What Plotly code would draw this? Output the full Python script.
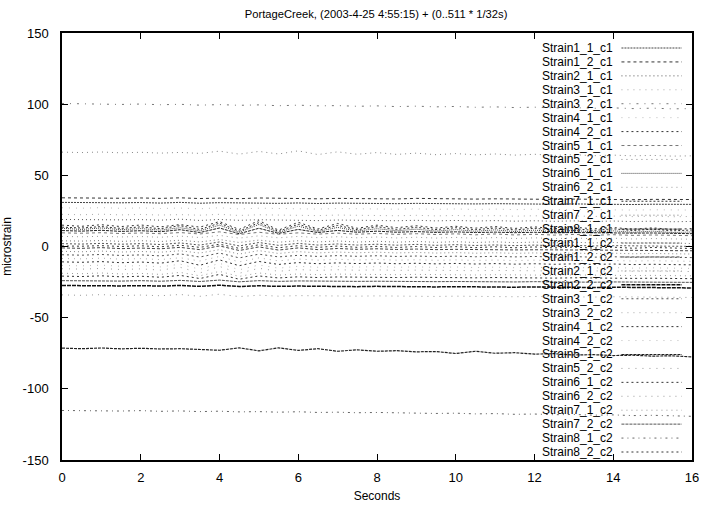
import plotly.graph_objects as go

TITLE = "PortageCreek, (2003-4-25 4:55:15) + (0..511 * 1/32s)"
X_LABEL = "Seconds"
Y_LABEL = "microstrain"
X_TICKS = [0, 2, 4, 6, 8, 10, 12, 14, 16]
Y_TICKS = [-150, -100, -50, 0, 50, 100, 150]

TIME = [0, 0.5, 1, 1.5, 2, 2.5, 3, 3.5, 4, 4.5, 5, 5.5, 6, 6.5, 7, 7.5, 8,
        8.5, 9, 9.5, 10, 10.5, 11, 11.5, 12, 12.5, 13, 13.5, 14, 14.5, 15, 15.5, 16]

NAMES = ["Strain1_1_c1", "Strain1_2_c1", "Strain2_1_c1", "Strain3_1_c1", "Strain3_2_c1",
         "Strain4_1_c1", "Strain4_2_c1", "Strain5_1_c1", "Strain5_2_c1", "Strain6_1_c1",
         "Strain6_2_c1", "Strain7_1_c1", "Strain7_2_c1", "Strain8_1_c1",
         "Strain1_1_c2", "Strain1_2_c2", "Strain2_1_c2", "Strain2_2_c2", "Strain3_1_c2",
         "Strain3_2_c2", "Strain4_1_c2", "Strain4_2_c2", "Strain5_1_c2", "Strain5_2_c2",
         "Strain6_1_c2", "Strain6_2_c2", "Strain7_1_c2", "Strain7_2_c2", "Strain8_1_c2",
         "Strain8_2_c2"]

strain1_1_c1 = [31.0, 30.8, 31.1, 30.7, 30.9, 30.5, 31.0, 30.4, 30.8, 30.6,
                30.7, 30.3, 30.6, 30.2, 30.5, 30.3, 30.4, 30.1, 30.3, 30.0,
                30.2, 29.9, 30.1, 29.8, 30.0, 29.7, 29.9, 29.6, 29.8, 29.5,
                29.7, 29.4, 29.6]
strain1_2_c1 = [34.2, 34.0, 34.3, 33.9, 34.1, 33.8, 34.2, 33.7, 34.0, 33.6,
                34.1, 33.8, 33.9, 33.5, 33.8, 33.6, 33.7, 33.4, 33.8, 33.5,
                33.6, 33.3, 33.5, 33.2, 33.4, 33.1, 33.3, 33.0, 33.2, 32.9,
                33.1, 32.8, 33.0]
strain2_1_c1 = [19.0, 18.8, 19.1, 18.7, 18.9, 18.5, 19.2, 18.3, 19.0, 18.4,
                18.8, 18.5, 18.7, 18.2, 18.6, 18.3, 18.5, 18.1, 18.4, 18.0,
                18.3, 17.9, 18.2, 17.8, 18.1, 17.7, 18.0, 17.6, 17.9, 17.5,
                17.8, 17.4, 17.6]
strain3_1_c1 = [22.6, 22.3, 22.7, 22.2, 22.5, 22.1, 22.4, 22.0, 22.6, 21.8,
                22.3, 22.0, 22.2, 21.7, 22.1, 21.8, 22.0, 21.6, 21.9, 21.5,
                21.8, 21.4, 21.7, 21.3, 21.6, 21.2, 21.5, 21.1, 21.4, 21.0,
                21.3, 20.9, 21.1]
strain3_2_c1 = [100.5, 100.2, 100.4, 99.8, 100.1, 99.6, 99.9, 99.3, 99.7, 99.2,
                99.5, 98.9, 99.3, 98.8, 99.0, 98.5, 98.8, 98.3, 98.6, 98.1,
                98.4, 97.8, 98.1, 97.6, 97.9, 97.3, 97.6, 97.1, 97.4, 96.9,
                97.2, 96.7, 96.9]
strain4_1_c1 = [27.2, 26.9, 27.3, 26.8, 27.1, 26.7, 27.0, 26.5, 27.2, 26.4,
                26.9, 26.6, 26.8, 26.3, 26.7, 26.4, 26.6, 26.2, 26.5, 26.1,
                26.4, 26.0, 26.3, 25.9, 26.2, 25.8, 26.0, 25.7, 25.9, 25.6,
                25.8, 25.5, 25.6]
strain4_2_c1 = [15.0, 14.2, 15.3, 14.0, 15.1, 13.8, 15.4, 13.6, 17.5, 12.0,
                18.2, 11.5, 17.0, 12.3, 16.2, 12.8, 15.0, 13.2, 14.6, 13.0,
                14.2, 12.9, 14.0, 12.7, 13.8, 12.5, 13.6, 12.4, 13.3, 12.2,
                13.1, 12.0, 12.6]
strain5_1_c1 = [9.6, 9.3, 9.7, 9.1, 9.5, 9.0, 9.8, 8.8, 10.3, 8.4,
                10.0, 8.6, 9.6, 8.7, 9.4, 8.6, 9.2, 8.5, 9.0, 8.4,
                8.9, 8.2, 8.8, 8.1, 8.6, 8.0, 8.5, 7.9, 8.3, 7.8,
                8.1, 7.7, 7.6]
strain5_2_c1 = [66.3, 66.0, 66.4, 65.8, 66.2, 65.6, 66.1, 65.4, 67.0, 64.9,
                66.8, 65.0, 67.2, 64.6, 66.5, 64.8, 66.0, 64.7, 65.6, 64.5,
                65.3, 64.4, 65.0, 64.2, 64.8, 64.0, 64.5, 63.8, 64.2, 63.7,
                64.0, 63.5, 63.7]
strain6_1_c1 = [12.8, 12.0, 13.0, 11.8, 12.6, 11.5, 13.2, 11.0, 15.0, 10.0,
                15.5, 9.8, 14.3, 10.6, 13.4, 10.9, 12.5, 11.0, 12.2, 10.8,
                11.9, 10.7, 11.7, 10.5, 11.5, 10.3, 11.3, 10.2, 11.0, 10.0,
                10.8, 9.8, 10.2]
strain6_2_c1 = [7.1, 6.8, 7.2, 6.7, 7.0, 6.5, 7.3, 6.3, 7.8, 5.9,
                7.5, 6.1, 7.1, 6.2, 6.9, 6.1, 6.7, 6.0, 6.5, 5.9,
                6.4, 5.7, 6.3, 5.6, 6.1, 5.5, 6.0, 5.4, 5.8, 5.3,
                5.6, 5.2, 5.1]
strain7_1_c1 = [13.6, 13.0, 14.0, 12.7, 13.8, 12.5, 14.6, 12.0, 16.4, 10.8,
                16.8, 10.6, 15.6, 11.4, 14.8, 11.8, 13.9, 12.0, 13.5, 11.9,
                13.2, 11.8, 13.0, 11.6, 12.8, 11.5, 12.6, 11.3, 12.4, 11.2,
                12.2, 11.0, 11.6]
strain7_2_c1 = [4.0, 3.8, 4.2, 3.6, 4.1, 3.5, 4.4, 3.2, 4.9, 2.8,
                4.5, 3.0, 4.1, 3.2, 3.9, 3.1, 3.7, 3.0, 3.6, 2.9,
                3.4, 2.8, 3.3, 2.7, 3.1, 2.6, 3.0, 2.5, 2.8, 2.4,
                2.6, 2.3, 2.1]
strain8_1_c1 = [11.2, 10.8, 11.4, 10.6, 11.1, 10.4, 11.8, 9.8, 13.0, 9.0,
                12.8, 9.2, 12.0, 9.8, 11.3, 10.0, 10.8, 10.0, 10.5, 9.9,
                10.3, 9.8, 10.1, 9.7, 10.0, 9.6, 9.8, 9.5, 9.6, 9.4,
                9.5, 9.3, 9.0]
strain1_1_c2 = [2.0, 1.7, 2.2, 1.6, 2.0, 1.4, 2.5, 1.0, 3.2, 0.4,
                2.8, 0.8, 2.2, 1.0, 1.8, 1.0, 1.6, 0.9, 1.5, 0.8,
                1.3, 0.7, 1.1, 0.6, 1.0, 0.5, 0.8, 0.4, 0.6, 0.3,
                0.4, 0.2, 0.1]
strain1_2_c2 = [-1.0, -1.3, -0.8, -1.5, -1.1, -1.6, -0.6, -2.2, 0.4, -2.8,
                -0.3, -2.5, -1.0, -2.2, -1.4, -2.0, -1.6, -2.1, -1.8, -2.2,
                -2.0, -2.3, -2.1, -2.4, -2.3, -2.5, -2.4, -2.6, -2.6, -2.7,
                -2.8, -2.9, -3.0]
strain2_1_c2 = [-3.4, -3.7, -3.2, -3.9, -3.5, -4.0, -3.0, -4.6, -2.2, -5.3,
                -2.9, -4.9, -3.6, -4.5, -3.9, -4.4, -4.0, -4.5, -4.2, -4.6,
                -4.3, -4.7, -4.4, -4.8, -4.5, -4.9, -4.6, -5.0, -4.7, -5.1,
                -4.9, -5.2, -5.3]
strain2_2_c2 = [-27.4, -27.6, -27.3, -27.7, -27.5, -27.8, -27.4, -28.0, -27.2, -28.1,
                -27.6, -28.0, -27.8, -28.1, -27.9, -28.2, -28.0, -28.3, -28.1, -28.4,
                -28.2, -28.5, -28.3, -28.6, -28.4, -28.7, -28.5, -28.8, -28.6, -28.9,
                -28.8, -29.0, -29.1]
strain3_1_c2 = [-5.8, -6.1, -5.6, -6.3, -5.9, -6.6, -5.2, -7.4, -4.6, -8.0,
                -5.4, -7.3, -6.2, -7.0, -6.4, -6.9, -6.5, -7.0, -6.7, -7.1,
                -6.8, -7.2, -6.9, -7.3, -7.0, -7.4, -7.1, -7.5, -7.2, -7.6,
                -7.4, -7.7, -7.8]
strain3_2_c2 = [-8.4, -8.7, -8.2, -8.9, -8.5, -9.2, -7.9, -10.2, -7.0, -10.8,
                -8.0, -10.1, -8.8, -9.6, -9.0, -9.5, -9.1, -9.6, -9.3, -9.7,
                -9.4, -9.8, -9.5, -9.9, -9.6, -10.0, -9.7, -10.1, -9.8, -10.2,
                -10.0, -10.3, -10.4]
strain4_1_c2 = [-10.8, -11.1, -10.6, -11.4, -10.9, -11.7, -10.0, -13.2, -9.4, -13.5,
                -10.5, -12.6, -11.3, -12.1, -11.5, -12.0, -11.6, -12.1, -11.8, -12.2,
                -11.9, -12.3, -12.0, -12.4, -12.1, -12.5, -12.2, -12.6, -12.3, -12.7,
                -12.5, -12.8, -12.9]
strain4_2_c2 = [-13.3, -13.6, -13.1, -13.9, -13.4, -14.3, -12.4, -16.0, -11.8, -16.4,
                -13.0, -15.2, -13.9, -14.6, -14.0, -14.5, -14.1, -14.6, -14.3, -14.7,
                -14.4, -14.8, -14.5, -14.9, -14.6, -15.0, -14.7, -15.1, -14.8, -15.2,
                -15.0, -15.3, -15.4]
strain5_1_c2 = [-71.4, -71.8, -71.3, -71.9, -71.5, -72.0, -71.8, -72.4, -72.9, -71.2,
                -73.3, -71.2, -73.0, -71.8, -73.6, -72.6, -73.6, -73.2, -74.0, -73.8,
                -75.2, -73.6, -75.0, -74.6, -75.6, -75.3, -76.2, -76.0, -76.6, -76.4,
                -77.0, -76.8, -77.6]
strain5_2_c2 = [-15.6, -15.9, -15.4, -16.2, -15.7, -16.6, -14.6, -18.6, -14.0, -18.8,
                -15.3, -17.4, -16.2, -16.8, -16.3, -16.7, -16.4, -16.8, -16.6, -16.9,
                -16.7, -17.0, -16.8, -17.1, -16.9, -17.2, -17.0, -17.3, -17.1, -17.4,
                -17.3, -17.5, -17.6]
strain6_1_c2 = [-20.8, -21.1, -20.6, -21.3, -20.9, -21.6, -20.3, -22.5, -19.6, -23.0,
                -20.7, -22.1, -21.3, -21.8, -21.4, -21.7, -21.5, -21.8, -21.6, -21.9,
                -21.7, -22.0, -21.8, -22.1, -21.9, -22.2, -22.0, -22.3, -22.1, -22.4,
                -22.3, -22.5, -22.6]
strain6_2_c2 = [-34.0, -34.3, -33.8, -34.5, -34.1, -34.6, -33.7, -35.0, -33.5, -35.2,
                -34.2, -34.9, -34.5, -34.8, -34.6, -34.9, -34.7, -35.0, -34.8, -35.1,
                -34.9, -35.2, -35.0, -35.3, -35.1, -35.4, -35.2, -35.5, -35.3, -35.6,
                -35.5, -35.7, -35.8]
strain7_1_c2 = [-18.8, -19.1, -18.6, -19.3, -18.9, -19.6, -18.2, -20.6, -17.5, -21.0,
                -18.6, -20.1, -19.3, -19.8, -19.4, -19.7, -19.5, -19.8, -19.6, -19.9,
                -19.7, -20.0, -19.8, -20.1, -19.9, -20.2, -20.0, -20.3, -20.1, -20.4,
                -20.3, -20.5, -20.6]
strain7_2_c2 = [-24.0, -24.2, -23.9, -24.3, -24.0, -24.4, -23.8, -24.6, -23.6, -24.8,
                -24.0, -24.5, -24.2, -24.4, -24.3, -24.5, -24.4, -24.6, -24.5, -24.7,
                -24.6, -24.8, -24.6, -24.9, -24.7, -25.0, -24.8, -25.1, -24.9, -25.1,
                -25.0, -25.2, -25.2]
strain8_1_c2 = [-115.2, -115.4, -115.1, -115.6, -115.3, -115.8, -115.5, -116.0, -115.7, -116.2,
                -116.0, -116.4, -116.1, -116.6, -116.4, -116.8, -116.6, -117.0, -116.9, -117.3,
                -117.1, -117.6, -117.4, -117.9, -117.7, -118.2, -118.0, -118.5, -118.3, -118.8,
                -118.6, -119.1, -119.3]
strain8_2_c2 = [0.4, 0.2, 0.6, 0.0, 0.5, -0.2, 0.9, -0.6, 1.6, -1.3,
                1.2, -0.9, 0.6, -0.6, 0.3, -0.6, 0.1, -0.7, 0.0, -0.7,
                -0.1, -0.8, -0.2, -0.9, -0.3, -1.0, -0.4, -1.1, -0.5, -1.2,
                -0.7, -1.3, -1.4]

SERIES = [strain1_1_c1, strain1_2_c1, strain2_1_c1, strain3_1_c1, strain3_2_c1,
          strain4_1_c1, strain4_2_c1, strain5_1_c1, strain5_2_c1, strain6_1_c1,
          strain6_2_c1, strain7_1_c1, strain7_2_c1, strain8_1_c1,
          strain1_1_c2, strain1_2_c2, strain2_1_c2, strain2_2_c2, strain3_1_c2,
          strain3_2_c2, strain4_1_c2, strain4_2_c2, strain5_1_c2, strain5_2_c2,
          strain6_1_c2, strain6_2_c2, strain7_1_c2, strain7_2_c2, strain8_1_c2,
          strain8_2_c2]

for s in SERIES:
    assert len(s) == len(TIME), len(s)

# (colour, dash, width) approximating the scanned gnuplot monochrome line types
STYLES = [
    ("#444444", "2px,1px", 1), ("#333333", "3px,3px", 1), ("#555555", "1px,3px", 1),
    ("#aaaaaa", "1px,5px", 1), ("#777777", "2px,6px,1px,6px", 1), ("#bbbbbb", "1px,6px", 1),
    ("#333333", "2px,3px", 1), ("#777777", "3px,3px", 1), ("#888888", "1px,4px", 1),
    ("#444444", "1px,1px", 1), ("#999999", "1px,4px", 1), ("#333333", "2px,2px", 1),
    ("#777777", "1px,3px", 1), ("#222222", "3px,1px", 1), ("#555555", "2px,2px", 1),
    ("#444444", "3px,2px", 1), ("#888888", "1px,3px", 1), ("#111111", "4px,1px", 1.5),
    ("#555555", "2px,3px", 1), ("#aaaaaa", "1px,5px", 1), ("#333333", "2px,3px", 1),
    ("#bbbbbb", "1px,6px", 1), ("#222222", "3px,1px", 1.2), ("#999999", "1px,6px", 1),
    ("#333333", "2px,3px", 1), ("#999999", "1px,5px", 1), ("#999999", "1px,4px", 1),
    ("#555555", "3px,1px", 1), ("#666666", "2px,4px,1px,4px", 1), ("#333333", "2px,3px", 1),
]

FONT = "Liberation Sans, Arial, Helvetica, sans-serif"

W, H = 703, 506
ML, MR, MT, MB = 62, 11, 33, 46
PLOT_H = H - MT - MB

fig = go.Figure()
for name, ys, (col, dash, w) in zip(NAMES, SERIES, STYLES):
    fig.add_trace(go.Scatter(x=TIME, y=ys, mode="lines", name=name,
                             line=dict(color=col, width=w, dash=dash),
                             showlegend=False))

# manual compact key (gnuplot style): one right-aligned multi-line text block
KEY_FIRST_PX, KEY_LAST_PX = 48, 452
key_step = (KEY_LAST_PX - KEY_FIRST_PX) / (len(NAMES) - 1)
key_font = key_step / 1.3
key_text = "<br>".join('<span style="font-size:12px">%s</span>' % n for n in NAMES)
fig.add_annotation(xref="paper", yref="paper", x=0.877,
                   y=(H - MB - (KEY_FIRST_PX + KEY_LAST_PX) / 2) / PLOT_H,
                   text=key_text, align="right", showarrow=False,
                   xanchor="right", yanchor="middle",
                   font=dict(family=FONT, size=key_font, color="black"))
for i, (col, dash, w) in enumerate(STYLES):
    yy = (H - MB - (KEY_FIRST_PX + i * key_step)) / PLOT_H
    fig.add_shape(type="line", xref="paper", yref="paper", x0=0.888, x1=0.984,
                  y0=yy, y1=yy, line=dict(color=col, width=w, dash=dash))

axis_common = dict(showline=True, linecolor="black", linewidth=1.5, mirror="ticks",
                   ticks="inside", ticklen=6, tickcolor="black", tickwidth=1,
                   showgrid=False, zeroline=False, automargin=False,
                   tickfont=dict(family=FONT, size=13, color="black"))

fig.update_xaxes(range=[0, 16], tickvals=X_TICKS, ticktext=[str(v) for v in X_TICKS],
                 title=dict(text=X_LABEL, font=dict(family=FONT, size=12, color="black"),
                            standoff=7),
                 ticklabelstandoff=5, **axis_common)
fig.update_yaxes(range=[-150, 150], tickvals=Y_TICKS, ticktext=[str(v) for v in Y_TICKS],
                 title=dict(text=Y_LABEL, font=dict(family=FONT, size=12, color="black"),
                            standoff=10),
                 ticklabelstandoff=9, **axis_common)

fig.update_layout(
    width=W, height=H,
    margin=dict(l=ML, r=MR, t=MT, b=MB),
    paper_bgcolor="white", plot_bgcolor="white",
    title=dict(text=TITLE, x=0.535, xanchor="center", y=0.972, yanchor="middle",
               font=dict(family=FONT, size=11.2, color="black")),
    font=dict(family=FONT, size=12, color="black"),
)

fig.write_html("out.html")
